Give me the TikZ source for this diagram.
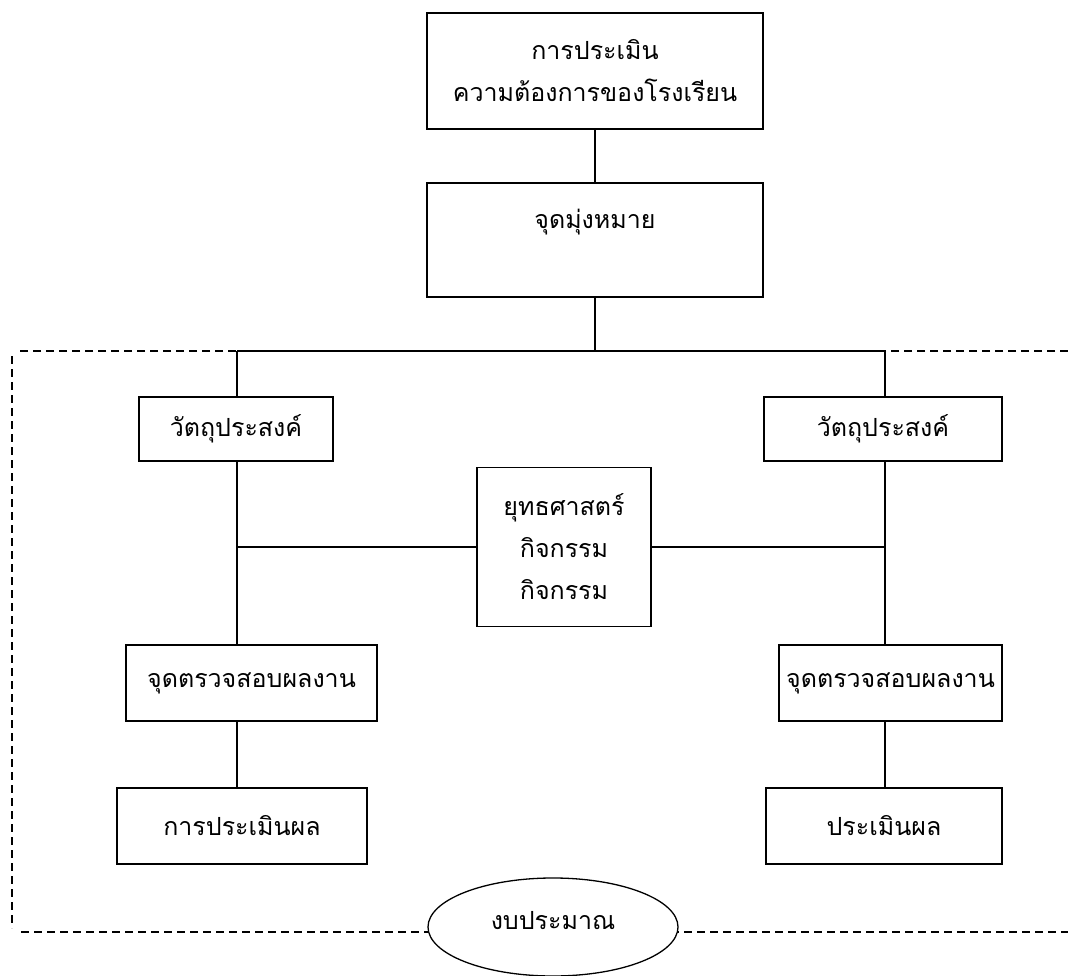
\documentclass[tikz,border=0pt]{standalone}
\usepackage{fontspec}
\newfontfamily\thai[Script=Thai]{Loma}
\usetikzlibrary{shapes.geometric}
\begin{document}
\begin{tikzpicture}[x=1pt,y=-1pt,
  box/.style={draw, rectangle, line width=1.3pt, inner sep=0pt, align=center,
    font=\thai\fontsize{25}{42}\selectfont},
  oval/.style={draw, ellipse, line width=1.3pt, fill=white, inner sep=0pt,
    font=\thai\fontsize{25}{42}\selectfont},
  lnk/.style={line width=1.3pt},
  border/.style={line width=1.3pt, dash pattern=on 8pt off 5pt}]
\useasboundingbox (0,0) rectangle (1068,976);

% dashed frame (open on the right)
\coordinate (fTR) at (1068,351);
\coordinate (fTL) at (17,351);
\coordinate (fL1) at (12,356);
\coordinate (fL2) at (12,928);
\coordinate (fBL) at (21,932);
\coordinate (fBR) at (1068,932);
\draw[border] (fTR) -- (fTL);
\draw[border] (fL1) -- (fL2);
\draw[border] (fBL) -- (fBR);

% boxes
\node[box, minimum width=336pt, minimum height=116pt] (need) at (595,71)
  {การประเมิน\\ความต้องการของโรงเรียน};
\node[box, minimum width=336pt, minimum height=114pt] (goal) at (595,240)
  {จุดมุ่งหมาย\\\mbox{}};
\node[box, minimum width=194pt, minimum height=64pt] (objL) at (236,429) {วัตถุประสงค์};
\node[box, minimum width=238pt, minimum height=64pt] (objR) at (883,429) {วัตถุประสงค์};
\node[box, minimum width=174pt, minimum height=159pt] (strat) at (564,547)
  {ยุทธศาสตร์\\กิจกรรม\\กิจกรรม};
\node[box, minimum width=251pt, minimum height=76pt] (chkL) at (251.5,683) {จุดตรวจสอบผลงาน};
\node[box, minimum width=223pt, minimum height=76pt] (chkR) at (890.5,683) {จุดตรวจสอบผลงาน};
\node[box, minimum width=250pt, minimum height=76pt] (evalL) at (242,826) {การประเมินผล};
\node[box, minimum width=236pt, minimum height=76pt] (evalR) at (884,826) {ประเมินผล};
\node[oval, minimum width=250pt, minimum height=98pt] (budget) at (553,927)
  {\raisebox{14pt}{งบประมาณ}};

% junction points
\coordinate (hub) at (595,351);
\coordinate (hubL) at (237,351);
\coordinate (hubR) at (885,351);
\coordinate (jL) at (237,547);
\coordinate (jR) at (885,547);

% connectors
\draw[lnk] (need.south) -- (goal.north);
\draw[lnk] (goal.south) -- (hub);
\draw[lnk] (hubL) -- (hubR);
\draw[lnk] (hubL) -- (objL.north -| hubL);
\draw[lnk] (hubR) -- (objR.north -| hubR);
\draw[lnk] (objL.south -| hubL) -- (chkL.north -| hubL);
\draw[lnk] (objR.south -| hubR) -- (chkR.north -| hubR);
\draw[lnk] (jL) -- (strat.west);
\draw[lnk] (strat.east) -- (jR);
\draw[lnk] (chkL.south -| hubL) -- (evalL.north -| hubL);
\draw[lnk] (chkR.south -| hubR) -- (evalR.north -| hubR);
\end{tikzpicture}
\end{document}
